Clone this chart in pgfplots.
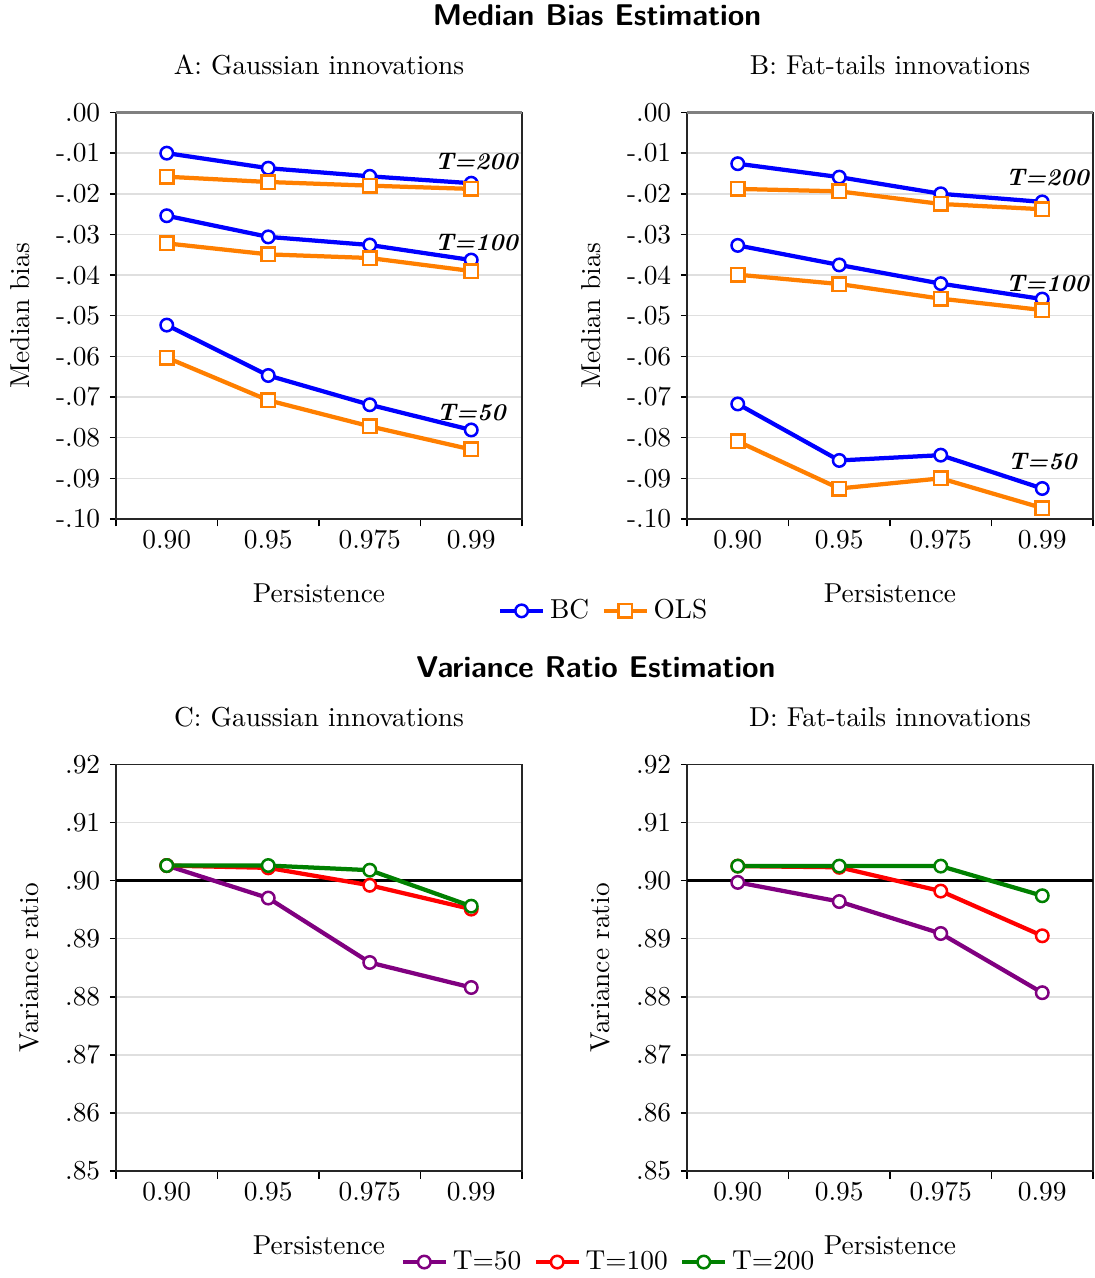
\documentclass[border=0pt,11pt]{standalone}
\usepackage{pgfplots}
\pgfplotsset{compat=1.18}
\definecolor{bcblue}{RGB}{0,0,255}
\definecolor{olsorange}{RGB}{255,127,0}
\definecolor{tfifty}{RGB}{128,0,128}
\definecolor{thundred}{RGB}{255,0,0}
\definecolor{ttwohundred}{RGB}{0,128,0}

\tikzset{tlab/.style={font=\fontsize{9.6}{11}\selectfont\bfseries\itshape}}
\pgfplotsset{
  panel/.style={
    scale only axis, width=162.4pt, height=162.6pt, anchor=south west,
    xmin=0, xmax=4, clip=false,
    xtick={0.5,1.5,2.5,3.5}, xticklabels={0.90,0.95,0.975,0.99},
    xticklabel style={yshift=2pt},
    minor xtick={0,1,2,3,4},
    every major x tick/.append style={draw=none},
    minor tick length=3pt, major tick length=2.5pt,
    tick align=outside, tick pos=left,
    tick style={black, line width=0.6pt},
    ymajorgrids, grid style={gray!25, line width=0.6pt},
    axis line style={black!85, line width=0.6pt},
    title style={at={(axis description cs:0.5,1.079)}, anchor=center},
    xlabel={Persistence},
    xlabel style={at={(axis description cs:0.5,-0.184)}, anchor=center},
    legend style={draw=none, fill=none, legend columns=-1, anchor=center,
      /tikz/every even column/.append style={column sep=3pt}},
  },
  bias/.style={panel, ymin=-0.10, ymax=0,
    ytick={-0.10,-0.09,-0.08,-0.07,-0.06,-0.05,-0.04,-0.03,-0.02,-0.01,0},
    yticklabels={\textrm{-.10},\textrm{-.09},\textrm{-.08},\textrm{-.07},\textrm{-.06},\textrm{-.05},\textrm{-.04},\textrm{-.03},\textrm{-.02},\textrm{-.01},\textrm{.00}},
    ylabel={Median bias},
    ylabel style={at={(axis description cs:-0.236,0.5)}, anchor=center}},
  vr/.style={panel, ymin=0.85, ymax=0.92,
    ytick={0.85,0.86,0.87,0.88,0.89,0.90,0.91,0.92},
    yticklabels={\textrm{.85},\textrm{.86},\textrm{.87},\textrm{.88},\textrm{.89},\textrm{.90},\textrm{.91},\textrm{.92}},
    ylabel={Variance ratio},
    ylabel style={at={(axis description cs:-0.212,0.5)}, anchor=center}},
  circ/.style={#1, line width=1.7pt, mark=*, mark size=2.5pt,
    mark options={fill=white, draw=#1, line width=1pt}},
  sq/.style={#1, line width=1.7pt, mark=square*, mark size=2.7pt,
    mark options={fill=white, draw=#1, line width=1pt}},
}

\begin{document}
\begin{tikzpicture}
\useasboundingbox (0,0) rectangle (437.6pt,511.2pt);

\node[font=\large\sffamily\bfseries] at (238.8pt,505.2pt) {Median Bias Estimation};
\node[font=\large\sffamily\bfseries] at (238.4pt,244.4pt) {Variance Ratio Estimation};

% A: Gaussian, median bias
\begin{axis}[bias, at={(46.4pt,303.6pt)}, title={A: Gaussian innovations},
  legend style={at={(axis description cs:1.205,-0.226)}}]
\addplot[gray, line width=1.3pt, forget plot] coordinates {(0,0) (4,0)};
\addplot[circ=bcblue] coordinates {(0.5,-0.0100) (1.5,-0.0137) (2.5,-0.0157) (3.5,-0.0174)};
\addplot[sq=olsorange] coordinates {(0.5,-0.0158) (1.5,-0.0171) (2.5,-0.0180) (3.5,-0.0188)};
\addplot[circ=bcblue, forget plot] coordinates {(0.5,-0.0254) (1.5,-0.0306) (2.5,-0.0326) (3.5,-0.0363)};
\addplot[sq=olsorange, forget plot] coordinates {(0.5,-0.0322) (1.5,-0.0349) (2.5,-0.0358) (3.5,-0.0390)};
\addplot[circ=bcblue, forget plot] coordinates {(0.5,-0.0523) (1.5,-0.0647) (2.5,-0.0719) (3.5,-0.0781)};
\addplot[sq=olsorange, forget plot] coordinates {(0.5,-0.0603) (1.5,-0.0708) (2.5,-0.0772) (3.5,-0.0829)};
\node[tlab] at (axis cs:3.55,-0.0120) {T=200};
\node[tlab] at (axis cs:3.55,-0.0321) {T=100};
\node[tlab] at (axis cs:3.50,-0.0739) {T=50};
\legend{BC,OLS}
\end{axis}

% B: Fat tails, median bias
\begin{axis}[bias, at={(274.8pt,303.6pt)}, title={B: Fat-tails innovations}]
\addplot[gray, line width=1.3pt] coordinates {(0,0) (4,0)};
\addplot[circ=bcblue] coordinates {(0.5,-0.0126) (1.5,-0.0159) (2.5,-0.0200) (3.5,-0.0220)};
\addplot[sq=olsorange] coordinates {(0.5,-0.0188) (1.5,-0.0194) (2.5,-0.0225) (3.5,-0.0238)};
\addplot[circ=bcblue] coordinates {(0.5,-0.0327) (1.5,-0.0375) (2.5,-0.0421) (3.5,-0.0459)};
\addplot[sq=olsorange] coordinates {(0.5,-0.0399) (1.5,-0.0422) (2.5,-0.0458) (3.5,-0.0486)};
\addplot[circ=bcblue] coordinates {(0.5,-0.0717) (1.5,-0.0856) (2.5,-0.0843) (3.5,-0.0925)};
\addplot[sq=olsorange] coordinates {(0.5,-0.0809) (1.5,-0.0925) (2.5,-0.0900) (3.5,-0.0973)};
\node[tlab] at (axis cs:3.55,-0.0160) {T=200};
\node[tlab] at (axis cs:3.55,-0.0421) {T=100};
\node[tlab] at (axis cs:3.50,-0.0860) {T=50};
\end{axis}

% C: Gaussian, variance ratio
\begin{axis}[vr, at={(46.4pt,42.8pt)}, title={C: Gaussian innovations},
  legend style={at={(axis description cs:1.217,-0.224)}}]
\addplot[black, line width=1.3pt, forget plot] coordinates {(0,0.90) (4,0.90)};
\addplot[circ=tfifty] coordinates {(0.5,0.9026) (1.5,0.8970) (2.5,0.8859) (3.5,0.8816)};
\addplot[circ=thundred] coordinates {(0.5,0.9026) (1.5,0.9022) (2.5,0.8992) (3.5,0.8951)};
\addplot[circ=ttwohundred] coordinates {(0.5,0.9026) (1.5,0.9026) (2.5,0.9018) (3.5,0.8956)};
\legend{T=50,T=100,T=200}
\end{axis}

% D: Fat tails, variance ratio
\begin{axis}[vr, at={(274.8pt,42.8pt)}, title={D: Fat-tails innovations}]
\addplot[black, line width=1.3pt] coordinates {(0,0.90) (4,0.90)};
\addplot[circ=tfifty] coordinates {(0.5,0.8997) (1.5,0.8964) (2.5,0.8909) (3.5,0.8807)};
\addplot[circ=thundred] coordinates {(0.5,0.9025) (1.5,0.9023) (2.5,0.8982) (3.5,0.8905)};
\addplot[circ=ttwohundred] coordinates {(0.5,0.9025) (1.5,0.9025) (2.5,0.9025) (3.5,0.8974)};
\end{axis}
\end{tikzpicture}
\end{document}
